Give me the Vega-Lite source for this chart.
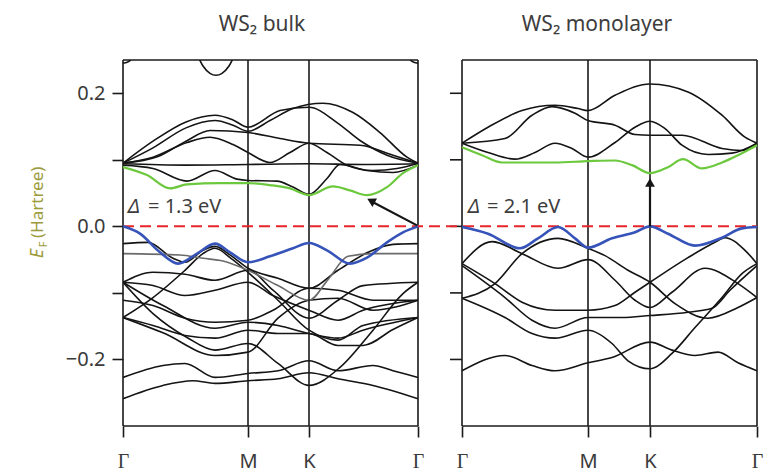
{
"$schema":"https://vega.github.io/schema/vega-lite/v6.json",
"autosize":"none","width":634,"height":366,
"padding":{"left":123,"top":60,"right":10,"bottom":47},
"config":{"view":{"stroke":null},"font":"Noto Sans"},
"datasets":{
"blk":[
{"b":"c1","x":0,"y":0.095},{"b":"c1","x":30,"y":0.128},{"b":"c1","x":63,"y":0.157},{"b":"c1","x":92,"y":0.167},{"b":"c1","x":110,"y":0.160},{"b":"c1","x":125,"y":0.149},{"b":"c1","x":157,"y":0.174},{"b":"c1","x":186,"y":0.179},{"b":"c1","x":214,"y":0.156},{"b":"c1","x":237,"y":0.129},{"b":"c1","x":264,"y":0.107},{"b":"c1","x":295,"y":0.095},
{"b":"c2","x":0,"y":0.095},{"b":"c2","x":30,"y":0.118},{"b":"c2","x":63,"y":0.148},{"b":"c2","x":92,"y":0.159},{"b":"c2","x":110,"y":0.152},{"b":"c2","x":125,"y":0.143},{"b":"c2","x":147,"y":0.159},{"b":"c2","x":170,"y":0.177},{"b":"c2","x":200,"y":0.185},{"b":"c2","x":230,"y":0.171},{"b":"c2","x":257,"y":0.141},{"b":"c2","x":284,"y":0.104},{"b":"c2","x":295,"y":0.095},
{"b":"c3","x":0,"y":0.095},{"b":"c3","x":35,"y":0.105},{"b":"c3","x":63,"y":0.128},{"b":"c3","x":87,"y":0.144},{"b":"c3","x":125,"y":0.141},{"b":"c3","x":157,"y":0.132},{"b":"c3","x":186,"y":0.125},{"b":"c3","x":237,"y":0.122},{"b":"c3","x":270,"y":0.107},{"b":"c3","x":295,"y":0.095},
{"b":"c4","x":0,"y":0.095},{"b":"c4","x":30,"y":0.104},{"b":"c4","x":64,"y":0.126},{"b":"c4","x":87,"y":0.134},{"b":"c4","x":110,"y":0.123},{"b":"c4","x":125,"y":0.111},{"b":"c4","x":147,"y":0.096},{"b":"c4","x":167,"y":0.111},{"b":"c4","x":186,"y":0.125},{"b":"c4","x":204,"y":0.111},{"b":"c4","x":224,"y":0.092},{"b":"c4","x":250,"y":0.084},{"b":"c4","x":274,"y":0.087},{"b":"c4","x":295,"y":0.095},
{"b":"c5","x":0,"y":0.094},{"b":"c5","x":62,"y":0.092},{"b":"c5","x":125,"y":0.093},{"b":"c5","x":186,"y":0.094},{"b":"c5","x":240,"y":0.093},{"b":"c5","x":295,"y":0.094},
{"b":"c6","x":0,"y":0.092},{"b":"c6","x":30,"y":0.087},{"b":"c6","x":64,"y":0.068},{"b":"c6","x":92,"y":0.084},{"b":"c6","x":114,"y":0.071},{"b":"c6","x":125,"y":0.069},{"b":"c6","x":154,"y":0.068},{"b":"c6","x":170,"y":0.059},{"b":"c6","x":186,"y":0.048},{"b":"c6","x":204,"y":0.072},{"b":"c6","x":217,"y":0.093},{"b":"c6","x":244,"y":0.084},{"b":"c6","x":270,"y":0.081},{"b":"c6","x":295,"y":0.092},
{"b":"t1","x":73,"y":0.262},{"b":"t1","x":80,"y":0.241},{"b":"t1","x":87,"y":0.230},{"b":"t1","x":93,"y":0.227},{"b":"t1","x":99,"y":0.230},{"b":"t1","x":106,"y":0.241},{"b":"t1","x":113,"y":0.262},
{"b":"t2","x":0,"y":0.245},{"b":"t2","x":6,"y":0.248},{"b":"t2","x":12,"y":0.258},
{"b":"t3","x":283,"y":0.258},{"b":"t3","x":289,"y":0.248},{"b":"t3","x":295,"y":0.245},
{"b":"v1","x":0,"y":-0.026},{"b":"v1","x":25,"y":-0.024},{"b":"v1","x":50,"y":-0.048},{"b":"v1","x":62,"y":-0.054},{"b":"v1","x":80,"y":-0.036},{"b":"v1","x":92,"y":-0.030},{"b":"v1","x":108,"y":-0.044},{"b":"v1","x":125,"y":-0.063},{"b":"v1","x":155,"y":-0.078},{"b":"v1","x":186,"y":-0.093},{"b":"v1","x":215,"y":-0.066},{"b":"v1","x":245,"y":-0.039},{"b":"v1","x":270,"y":-0.027},{"b":"v1","x":295,"y":-0.026},
{"b":"v3","x":0,"y":-0.084},{"b":"v3","x":30,"y":-0.069},{"b":"v3","x":62,"y":-0.072},{"b":"v3","x":92,"y":-0.081},{"b":"v3","x":125,"y":-0.066},{"b":"v3","x":150,"y":-0.096},{"b":"v3","x":186,"y":-0.138},{"b":"v3","x":215,"y":-0.111},{"b":"v3","x":240,"y":-0.089},{"b":"v3","x":295,"y":-0.084},
{"b":"v4","x":0,"y":-0.084},{"b":"v4","x":30,"y":-0.089},{"b":"v4","x":62,"y":-0.104},{"b":"v4","x":92,"y":-0.096},{"b":"v4","x":125,"y":-0.084},{"b":"v4","x":150,"y":-0.104},{"b":"v4","x":186,"y":-0.126},{"b":"v4","x":215,"y":-0.141},{"b":"v4","x":240,"y":-0.126},{"b":"v4","x":295,"y":-0.111},
{"b":"v5","x":0,"y":-0.137},{"b":"v5","x":30,"y":-0.107},{"b":"v5","x":62,"y":-0.066},{"b":"v5","x":80,"y":-0.041},{"b":"v5","x":92,"y":-0.033},{"b":"v5","x":108,"y":-0.048},{"b":"v5","x":125,"y":-0.069},{"b":"v5","x":155,"y":-0.111},{"b":"v5","x":186,"y":-0.156},{"b":"v5","x":215,"y":-0.171},{"b":"v5","x":240,"y":-0.149},{"b":"v5","x":295,"y":-0.137},
{"b":"v6","x":0,"y":-0.084},{"b":"v6","x":40,"y":-0.119},{"b":"v6","x":92,"y":-0.153},{"b":"v6","x":125,"y":-0.144},{"b":"v6","x":155,"y":-0.149},{"b":"v6","x":186,"y":-0.161},{"b":"v6","x":215,"y":-0.168},{"b":"v6","x":240,"y":-0.156},{"b":"v6","x":295,"y":-0.137},
{"b":"v7","x":0,"y":-0.084},{"b":"v7","x":30,"y":-0.131},{"b":"v7","x":64,"y":-0.167},{"b":"v7","x":92,"y":-0.186},{"b":"v7","x":125,"y":-0.176},{"b":"v7","x":155,"y":-0.206},{"b":"v7","x":186,"y":-0.239},{"b":"v7","x":217,"y":-0.212},{"b":"v7","x":250,"y":-0.156},{"b":"v7","x":280,"y":-0.101},{"b":"v7","x":295,"y":-0.084},
{"b":"v8","x":0,"y":-0.137},{"b":"v8","x":30,"y":-0.149},{"b":"v8","x":62,"y":-0.164},{"b":"v8","x":92,"y":-0.168},{"b":"v8","x":125,"y":-0.156},{"b":"v8","x":155,"y":-0.161},{"b":"v8","x":186,"y":-0.161},{"b":"v8","x":215,"y":-0.179},{"b":"v8","x":240,"y":-0.179},{"b":"v8","x":270,"y":-0.155},{"b":"v8","x":295,"y":-0.137},
{"b":"v9","x":0,"y":-0.137},{"b":"v9","x":40,"y":-0.160},{"b":"v9","x":92,"y":-0.194},{"b":"v9","x":125,"y":-0.189},{"b":"v9","x":155,"y":-0.138},{"b":"v9","x":186,"y":-0.111},{"b":"v9","x":215,"y":-0.108},{"b":"v9","x":250,"y":-0.126},{"b":"v9","x":295,"y":-0.111},
{"b":"v10","x":0,"y":-0.227},{"b":"v10","x":40,"y":-0.209},{"b":"v10","x":62,"y":-0.206},{"b":"v10","x":92,"y":-0.227},{"b":"v10","x":125,"y":-0.221},{"b":"v10","x":155,"y":-0.217},{"b":"v10","x":186,"y":-0.202},{"b":"v10","x":215,"y":-0.217},{"b":"v10","x":250,"y":-0.209},{"b":"v10","x":270,"y":-0.217},{"b":"v10","x":295,"y":-0.227},
{"b":"v11","x":0,"y":-0.259},{"b":"v11","x":40,"y":-0.239},{"b":"v11","x":70,"y":-0.232},{"b":"v11","x":92,"y":-0.236},{"b":"v11","x":125,"y":-0.232},{"b":"v11","x":155,"y":-0.229},{"b":"v11","x":186,"y":-0.220},{"b":"v11","x":215,"y":-0.229},{"b":"v11","x":250,"y":-0.239},{"b":"v11","x":295,"y":-0.259},
{"b":"v12","x":0,"y":-0.111},{"b":"v12","x":30,"y":-0.119},{"b":"v12","x":62,"y":-0.138},{"b":"v12","x":92,"y":-0.144},{"b":"v12","x":125,"y":-0.141},{"b":"v12","x":150,"y":-0.126},{"b":"v12","x":186,"y":-0.093},{"b":"v12","x":215,"y":-0.096},{"b":"v12","x":250,"y":-0.111},{"b":"v12","x":295,"y":-0.111},
{"b":"mc1","x":339,"y":0.125},{"b":"mc1","x":365,"y":0.149},{"b":"mc1","x":399,"y":0.174},{"b":"mc1","x":432,"y":0.182},{"b":"mc1","x":455,"y":0.177},{"b":"mc1","x":465,"y":0.174},{"b":"mc1","x":492,"y":0.197},{"b":"mc1","x":527,"y":0.214},{"b":"mc1","x":565,"y":0.202},{"b":"mc1","x":599,"y":0.167},{"b":"mc1","x":622,"y":0.134},{"b":"mc1","x":634,"y":0.125},
{"b":"mc2","x":339,"y":0.125},{"b":"mc2","x":382,"y":0.132},{"b":"mc2","x":409,"y":0.167},{"b":"mc2","x":429,"y":0.180},{"b":"mc2","x":452,"y":0.170},{"b":"mc2","x":465,"y":0.159},{"b":"mc2","x":492,"y":0.152},{"b":"mc2","x":512,"y":0.138},{"b":"mc2","x":527,"y":0.137},{"b":"mc2","x":559,"y":0.137},{"b":"mc2","x":599,"y":0.117},{"b":"mc2","x":619,"y":0.114},{"b":"mc2","x":634,"y":0.125},
{"b":"mc3","x":339,"y":0.125},{"b":"mc3","x":365,"y":0.111},{"b":"mc3","x":392,"y":0.101},{"b":"mc3","x":412,"y":0.111},{"b":"mc3","x":432,"y":0.125},{"b":"mc3","x":449,"y":0.117},{"b":"mc3","x":465,"y":0.104},{"b":"mc3","x":492,"y":0.126},{"b":"mc3","x":512,"y":0.149},{"b":"mc3","x":527,"y":0.158},{"b":"mc3","x":542,"y":0.147},{"b":"mc3","x":559,"y":0.122},{"b":"mc3","x":585,"y":0.108},{"b":"mc3","x":609,"y":0.110},{"b":"mc3","x":634,"y":0.125},
{"b":"mva","x":339,"y":-0.108},{"b":"mva","x":372,"y":-0.086},{"b":"mva","x":399,"y":-0.041},{"b":"mva","x":435,"y":-0.018},{"b":"mva","x":465,"y":-0.033},{"b":"mva","x":482,"y":-0.044},{"b":"mva","x":505,"y":-0.066},{"b":"mva","x":527,"y":-0.084},{"b":"mva","x":552,"y":-0.116},{"b":"mva","x":585,"y":-0.138},{"b":"mva","x":615,"y":-0.122},{"b":"mva","x":634,"y":-0.107},
{"b":"mvb","x":339,"y":-0.056},{"b":"mvb","x":369,"y":-0.023},{"b":"mvb","x":399,"y":-0.041},{"b":"mvb","x":435,"y":-0.063},{"b":"mvb","x":465,"y":-0.050},{"b":"mvb","x":492,"y":-0.081},{"b":"mvb","x":512,"y":-0.111},{"b":"mvb","x":527,"y":-0.122},{"b":"mvb","x":549,"y":-0.099},{"b":"mvb","x":582,"y":-0.063},{"b":"mvb","x":615,"y":-0.086},{"b":"mvb","x":634,"y":-0.107},
{"b":"mvc","x":339,"y":-0.056},{"b":"mvc","x":372,"y":-0.086},{"b":"mvc","x":399,"y":-0.114},{"b":"mvc","x":432,"y":-0.126},{"b":"mvc","x":465,"y":-0.126},{"b":"mvc","x":492,"y":-0.119},{"b":"mvc","x":512,"y":-0.099},{"b":"mvc","x":527,"y":-0.084},{"b":"mvc","x":565,"y":-0.047},{"b":"mvc","x":592,"y":-0.024},{"b":"mvc","x":602,"y":-0.017},{"b":"mvc","x":622,"y":-0.036},{"b":"mvc","x":634,"y":-0.056},
{"b":"mvd","x":339,"y":-0.059},{"b":"mvd","x":382,"y":-0.107},{"b":"mvd","x":409,"y":-0.141},{"b":"mvd","x":432,"y":-0.153},{"b":"mvd","x":465,"y":-0.137},{"b":"mvd","x":499,"y":-0.137},{"b":"mvd","x":527,"y":-0.134},{"b":"mvd","x":565,"y":-0.129},{"b":"mvd","x":589,"y":-0.123},{"b":"mvd","x":607,"y":-0.096},{"b":"mvd","x":634,"y":-0.059},
{"b":"mve","x":339,"y":-0.108},{"b":"mve","x":382,"y":-0.137},{"b":"mve","x":409,"y":-0.161},{"b":"mve","x":432,"y":-0.168},{"b":"mve","x":465,"y":-0.156},{"b":"mve","x":489,"y":-0.176},{"b":"mve","x":505,"y":-0.202},{"b":"mve","x":527,"y":-0.214},{"b":"mve","x":549,"y":-0.191},{"b":"mve","x":572,"y":-0.152},{"b":"mve","x":599,"y":-0.107},{"b":"mve","x":619,"y":-0.071},{"b":"mve","x":634,"y":-0.056},
{"b":"mvf","x":339,"y":-0.217},{"b":"mvf","x":382,"y":-0.194},{"b":"mvf","x":409,"y":-0.209},{"b":"mvf","x":432,"y":-0.217},{"b":"mvf","x":465,"y":-0.205},{"b":"mvf","x":489,"y":-0.197},{"b":"mvf","x":527,"y":-0.174},{"b":"mvf","x":549,"y":-0.186},{"b":"mvf","x":572,"y":-0.194},{"b":"mvf","x":595,"y":-0.189},{"b":"mvf","x":615,"y":-0.205},{"b":"mvf","x":634,"y":-0.217}
],
"gray":[
{"b":"v2","x":0,"y":-0.041},{"b":"v2","x":57,"y":-0.043},{"b":"v2","x":80,"y":-0.048},{"b":"v2","x":100,"y":-0.052},{"b":"v2","x":125,"y":-0.066},{"b":"v2","x":155,"y":-0.089},{"b":"v2","x":186,"y":-0.111},{"b":"v2","x":205,"y":-0.080},{"b":"v2","x":225,"y":-0.045},{"b":"v2","x":250,"y":-0.041},{"b":"v2","x":295,"y":-0.041}
],
"green":[
{"b":"bulk","x":0,"y":0.089},{"b":"bulk","x":24,"y":0.077},{"b":"bulk","x":47,"y":0.057},{"b":"bulk","x":64,"y":0.063},{"b":"bulk","x":97,"y":0.065},{"b":"bulk","x":125,"y":0.065},{"b":"bulk","x":147,"y":0.062},{"b":"bulk","x":167,"y":0.057},{"b":"bulk","x":186,"y":0.047},{"b":"bulk","x":210,"y":0.060},{"b":"bulk","x":227,"y":0.054},{"b":"bulk","x":244,"y":0.047},{"b":"bulk","x":264,"y":0.059},{"b":"bulk","x":280,"y":0.080},{"b":"bulk","x":295,"y":0.092},
{"b":"mono","x":339,"y":0.119},{"b":"mono","x":359,"y":0.107},{"b":"mono","x":379,"y":0.096},{"b":"mono","x":399,"y":0.096},{"b":"mono","x":432,"y":0.096},{"b":"mono","x":465,"y":0.098},{"b":"mono","x":492,"y":0.099},{"b":"mono","x":509,"y":0.092},{"b":"mono","x":527,"y":0.080},{"b":"mono","x":545,"y":0.089},{"b":"mono","x":560,"y":0.101},{"b":"mono","x":579,"y":0.087},{"b":"mono","x":599,"y":0.096},{"b":"mono","x":615,"y":0.107},{"b":"mono","x":634,"y":0.122}
],
"blue":[
{"b":"bulk","x":0,"y":0},{"b":"bulk","x":17,"y":-0.011},{"b":"bulk","x":37,"y":-0.039},{"b":"bulk","x":55,"y":-0.056},{"b":"bulk","x":74,"y":-0.041},{"b":"bulk","x":92,"y":-0.026},{"b":"bulk","x":107,"y":-0.039},{"b":"bulk","x":125,"y":-0.054},{"b":"bulk","x":147,"y":-0.045},{"b":"bulk","x":170,"y":-0.033},{"b":"bulk","x":186,"y":-0.025},{"b":"bulk","x":204,"y":-0.036},{"b":"bulk","x":227,"y":-0.056},{"b":"bulk","x":244,"y":-0.047},{"b":"bulk","x":264,"y":-0.024},{"b":"bulk","x":280,"y":-0.009},{"b":"bulk","x":295,"y":0},
{"b":"mono","x":339,"y":-0.001},{"b":"mono","x":365,"y":-0.011},{"b":"mono","x":397,"y":-0.033},{"b":"mono","x":415,"y":-0.018},{"b":"mono","x":435,"y":-0.001},{"b":"mono","x":452,"y":-0.018},{"b":"mono","x":465,"y":-0.032},{"b":"mono","x":489,"y":-0.018},{"b":"mono","x":512,"y":-0.009},{"b":"mono","x":527,"y":0},{"b":"mono","x":545,"y":-0.011},{"b":"mono","x":572,"y":-0.029},{"b":"mono","x":599,"y":-0.017},{"b":"mono","x":619,"y":-0.003},{"b":"mono","x":634,"y":-0.001}
]
},
"encoding":{
"x":{"field":"x","type":"quantitative","scale":{"domain":[0,634],"nice":false,"zero":false},
"axis":{"values":[0,125,186,295,339,465,527,634],"labelExpr":"datum.value === 125 || datum.value === 465 ? 'M' : (datum.value === 186 || datum.value === 527 ? 'K' : 'Γ')","domain":false,"grid":false,"tickSize":11,"tickColor":"#1a1a1a","tickWidth":1.6,"labelFontSize":20,"labelColor":"#3a3a3a","labelPadding":30,"labelBaseline":"alphabetic","labelFlush":false,"labelOverlap":false,"title":null,
"labelFont":{"condition":{"test":"datum.value === 0 || datum.value === 295 || datum.value === 339 || datum.value === 634","value":"Liberation Serif"},"value":"Noto Sans"}}},
"y":{"field":"y","type":"quantitative","scale":{"domain":[-0.3,0.25],"nice":false,"zero":false},
"axis":{"values":[-0.2,-0.1,0,0.1,0.2],"labelExpr":"datum.value === 0.2 || datum.value === 0 || datum.value === -0.2 ? format(datum.value, '.1f') : ''","domain":false,"grid":false,"tickSize":11,"tickColor":"#1a1a1a","tickWidth":1.6,"labelFontSize":20,"labelColor":"#3a3a3a","labelPadding":7,"title":null,"labelFont":"Noto Sans"}}
},
"layer":[
{"data":{"name":"blk"},"mark":{"type":"line","interpolate":"monotone","clip":true,"stroke":"#141414","strokeWidth":1.6},"encoding":{"detail":{"field":"b"}}},
{"data":{"name":"gray"},"mark":{"type":"line","interpolate":"monotone","clip":true,"stroke":"#6a6a6a","strokeWidth":1.6},"encoding":{"detail":{"field":"b"}}},
{"data":{"values":[{"x":0,"y":-0.3,"y2":0.25},{"x":125,"y":-0.3,"y2":0.25},{"x":186,"y":-0.3,"y2":0.25},{"x":295,"y":-0.3,"y2":0.25},{"x":339,"y":-0.3,"y2":0.25},{"x":465,"y":-0.3,"y2":0.25},{"x":527,"y":-0.3,"y2":0.25},{"x":634,"y":-0.3,"y2":0.25}]},"mark":{"type":"rule","stroke":"#1a1a1a","strokeWidth":1.6},"encoding":{"y2":{"field":"y2"}}},
{"data":{"values":[{"x":0,"x2":295,"y":0.25},{"x":0,"x2":295,"y":-0.3},{"x":339,"x2":634,"y":0.25},{"x":339,"x2":634,"y":-0.3}]},"mark":{"type":"rule","stroke":"#1a1a1a","strokeWidth":1.6},"encoding":{"x2":{"field":"x2"}}},
{"data":{"values":[{"x":327,"x2":339,"y":0.2},{"x":327,"x2":339,"y":0.1},{"x":327,"x2":339,"y":0},{"x":327,"x2":339,"y":-0.1},{"x":327,"x2":339,"y":-0.2}]},"mark":{"type":"rule","stroke":"#1a1a1a","strokeWidth":1.6},"encoding":{"x2":{"field":"x2"}}},
{"data":{"values":[{"x":0,"x2":634,"y":0}]},"mark":{"type":"rule","stroke":"#e8262a","strokeWidth":2,"strokeDash":[11,6]},"encoding":{"x2":{"field":"x2"}}},
{"data":{"name":"green"},"mark":{"type":"line","interpolate":"monotone","stroke":"#6cc83c","strokeWidth":2.2},"encoding":{"detail":{"field":"b"}}},
{"data":{"name":"blue"},"mark":{"type":"line","interpolate":"monotone","stroke":"#3553b8","strokeWidth":2.6},"encoding":{"detail":{"field":"b"}}},
{"data":{"values":[{"x":294,"y":0.0015,"x2":251,"y2":0.0355},{"x":527,"y":0,"x2":527,"y2":0.060}]},"mark":{"type":"rule","stroke":"#151515","strokeWidth":2.2},"encoding":{"x2":{"field":"x2"},"y2":{"field":"y2"}}},
{"data":{"values":[{"x":248,"y":0.0385}]},"mark":{"type":"point","shape":"triangle-up","filled":true,"color":"#151515","size":95,"opacity":1,"angle":298}},
{"data":{"values":[{"x":527,"y":0.066}]},"mark":{"type":"point","shape":"triangle-up","filled":true,"color":"#151515","size":95,"opacity":1,"angle":0}},
{"data":{"values":[{"x":139,"y":0.293,"t":"WS₂ bulk"},{"x":474,"y":0.293,"t":"WS₂ monolayer"}]},"mark":{"type":"text","fontSize":21,"align":"center","baseline":"alphabetic","color":"#3d3d3d","font":"Noto Sans"},"encoding":{"text":{"field":"t"}}},
{"data":{"values":[{"x":5,"y":0.0195,"t":"Δ"},{"x":345,"y":0.0195,"t":"Δ"}]},"mark":{"type":"text","fontSize":20,"fontStyle":"italic","align":"left","baseline":"alphabetic","color":"#3d3d3d","font":"Noto Sans"},"encoding":{"text":{"field":"t"}}},
{"data":{"values":[{"x":25,"y":0.0195,"t":"= 1.3 eV"},{"x":364,"y":0.0195,"t":"= 2.1 eV"}]},"mark":{"type":"text","fontSize":20,"align":"left","baseline":"alphabetic","color":"#3d3d3d","font":"Noto Sans"},"encoding":{"text":{"field":"t"}}},
{"data":{"values":[{"x":-85,"y":-0.041,"t":"E"}]},"mark":{"type":"text","fontSize":18,"fontStyle":"italic","angle":270,"align":"center","baseline":"middle","color":"#9c9a3a","font":"Noto Sans"},"encoding":{"text":{"field":"t"}}},
{"data":{"values":[{"x":-79,"y":-0.027,"t":"F"}]},"mark":{"type":"text","fontSize":11,"angle":270,"align":"center","baseline":"middle","color":"#9c9a3a","font":"Noto Sans"},"encoding":{"text":{"field":"t"}}},
{"data":{"values":[{"x":-85,"y":-0.0175,"t":"(Hartree)"}]},"mark":{"type":"text","fontSize":17,"angle":270,"align":"left","baseline":"middle","color":"#9c9a3a","font":"Noto Sans"},"encoding":{"text":{"field":"t"}}}
]
}
